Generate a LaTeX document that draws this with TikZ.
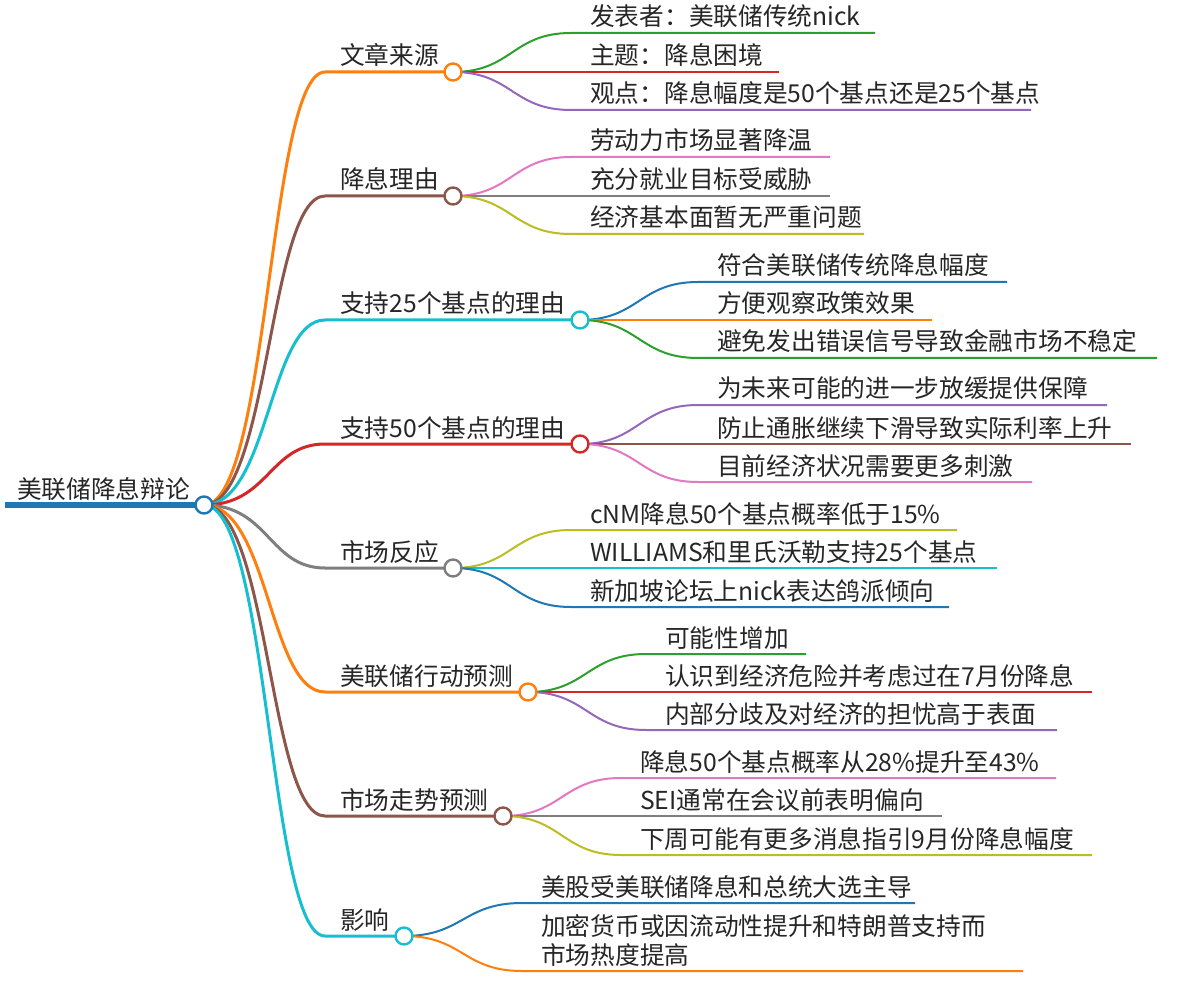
\documentclass[tikz,border=0pt]{standalone}
\usepackage{fontspec}
\setmainfont{Noto Sans CJK SC}
\definecolor{cblue}{HTML}{1F77B4}
\definecolor{corange}{HTML}{FF7F0E}
\definecolor{cgreen}{HTML}{2CA02C}
\definecolor{cred}{HTML}{D62728}
\definecolor{cpurple}{HTML}{9467BD}
\definecolor{cbrown}{HTML}{8C564B}
\definecolor{cpink}{HTML}{E377C2}
\definecolor{cgray}{HTML}{7F7F7F}
\definecolor{colive}{HTML}{BCBD22}
\definecolor{ccyan}{HTML}{17BECF}
\newcommand\mmhub[6]{% name, color, y, xc, label, (unused)
  \coordinate (#1a) at (325,#3);
  \node[txt] (#1t) at (340,#3-7) {#5};
  \draw[#2, line width=3pt] (rc.center) .. controls (269,505) and (269,#3) .. (#1a) -- (#4,#3);
  \coordinate (#1) at (#4,#3);
}
\newcommand\mmleaf[8]{% name, parent, color, xc, yc, y, end, text
  \coordinate (#1s) at (#4+118,#6);
  \coordinate (#1e) at (#7,#6);
  \node[txt] (#1) at (#4+137,#6-7) {#8};
  \draw[#3, line width=2pt] (#2) .. controls (#4+59,#5) and (#4+59,#6) .. (#1s) -- (#1e);
}
\begin{document}
\begin{tikzpicture}[x=1pt,y=-1pt,
  txt/.style={anchor=base west, inner sep=0pt, font=\fontsize{24.7}{29}\selectfont, text=black!85},
  hub/.style={circle, fill=white, line width=2.4pt, minimum size=17pt, inner sep=0pt}]
\path[use as bounding box, fill=white] (0,0) rectangle (1200,1008);

% root
\node[txt] (root) at (17,498) {美联储降息辩论};
\coordinate (r0) at (5,505);
\coordinate (rc) at (204,505);
\draw[cblue, line width=6pt] (r0) -- (rc);

% level 1
\mmhub{A}{corange}{72}{453}{文章来源}{}
\mmhub{B}{cbrown}{196}{453}{降息理由}{}
\mmhub{C}{ccyan}{320}{580}{支持25个基点的理由}{}
\mmhub{D}{cred}{444}{580}{支持50个基点的理由}{}
\mmhub{E}{cgray}{568}{453}{市场反应}{}
\mmhub{F}{corange}{692}{528}{美联储行动预测}{}
\mmhub{G}{cbrown}{816}{503}{市场走势预测}{}
\mmhub{H}{ccyan}{936}{404}{影响}{}

% level 2
\mmleaf{A1}{A}{cgreen}{453}{72}{33}{875}{发表者：美联储传统nick}
\mmleaf{A2}{A}{cred}{453}{72}{72}{779}{主题：降息困境}
\mmleaf{A3}{A}{cpurple}{453}{72}{110}{1031}{观点：降息幅度是50个基点还是25个基点}

\mmleaf{B1}{B}{cpink}{453}{196}{157}{830}{劳动力市场显著降温}
\mmleaf{B2}{B}{cgray}{453}{196}{196}{830}{充分就业目标受威胁}
\mmleaf{B3}{B}{colive}{453}{196}{234}{864}{经济基本面暂无严重问题}

\mmleaf{C1}{C}{cblue}{580}{320}{282}{1007}{符合美联储传统降息幅度}
\mmleaf{C2}{C}{corange}{580}{320}{320}{932}{方便观察政策效果}
\mmleaf{C3}{C}{cgreen}{580}{320}{358}{1157}{避免发出错误信号导致金融市场不稳定}

\mmleaf{D1}{D}{cpurple}{580}{444}{405}{1107}{为未来可能的进一步放缓提供保障}
\mmleaf{D2}{D}{cbrown}{580}{444}{444}{1131}{防止通胀继续下滑导致实际利率上升}
\mmleaf{D3}{D}{cpink}{580}{444}{482}{1032}{目前经济状况需要更多刺激}

\mmleaf{E1}{E}{colive}{453}{568}{530}{957}{cNM降息50个基点概率低于15\%}
\mmleaf{E2}{E}{ccyan}{453}{568}{568}{997}{WILLIAMS和里氏沃勒支持25个基点}
\mmleaf{E3}{E}{cblue}{453}{568}{607}{949}{新加坡论坛上nick表达鸽派倾向}

\mmleaf{F1}{F}{cgreen}{528}{692}{654}{806}{可能性增加}
\mmleaf{F2}{F}{cred}{528}{692}{692}{1092}{认识到经济危险并考虑过在7月份降息}
\mmleaf{F3}{F}{cpurple}{528}{692}{730}{1057}{内部分歧及对经济的担忧高于表面}

\mmleaf{G1}{G}{cpink}{503}{816}{778}{1056}{降息50个基点概率从28\%提升至43\%}
\mmleaf{G2}{G}{cgray}{503}{816}{816}{942}{SEI通常在会议前表明偏向}
\mmleaf{G3}{G}{colive}{503}{816}{855}{1092}{下周可能有更多消息指引9月份降息幅度}

\mmleaf{H1}{H}{cblue}{404}{936}{903}{915}{美股受美联储降息和总统大选主导}
% two-line leaf
\coordinate (H2s) at (522,971);
\coordinate (H2e) at (1023,971);
\node[txt, anchor=north west, align=left] (H2) at (541,914) {加密货币或因流动性提升和特朗普支持而\\市场热度提高};
\draw[corange, line width=2pt] (H) .. controls (463,936) and (463,971) .. (H2s) -- (H2e);

% hub circles
\node[hub, draw=cblue] (rcc) at (rc) {};
\node[hub, draw=corange] at (A) {};
\node[hub, draw=cbrown] at (B) {};
\node[hub, draw=ccyan] at (C) {};
\node[hub, draw=cred] at (D) {};
\node[hub, draw=cgray] at (E) {};
\node[hub, draw=corange] at (F) {};
\node[hub, draw=cbrown] at (G) {};
\node[hub, draw=ccyan] at (H) {};
\end{tikzpicture}
\end{document}
